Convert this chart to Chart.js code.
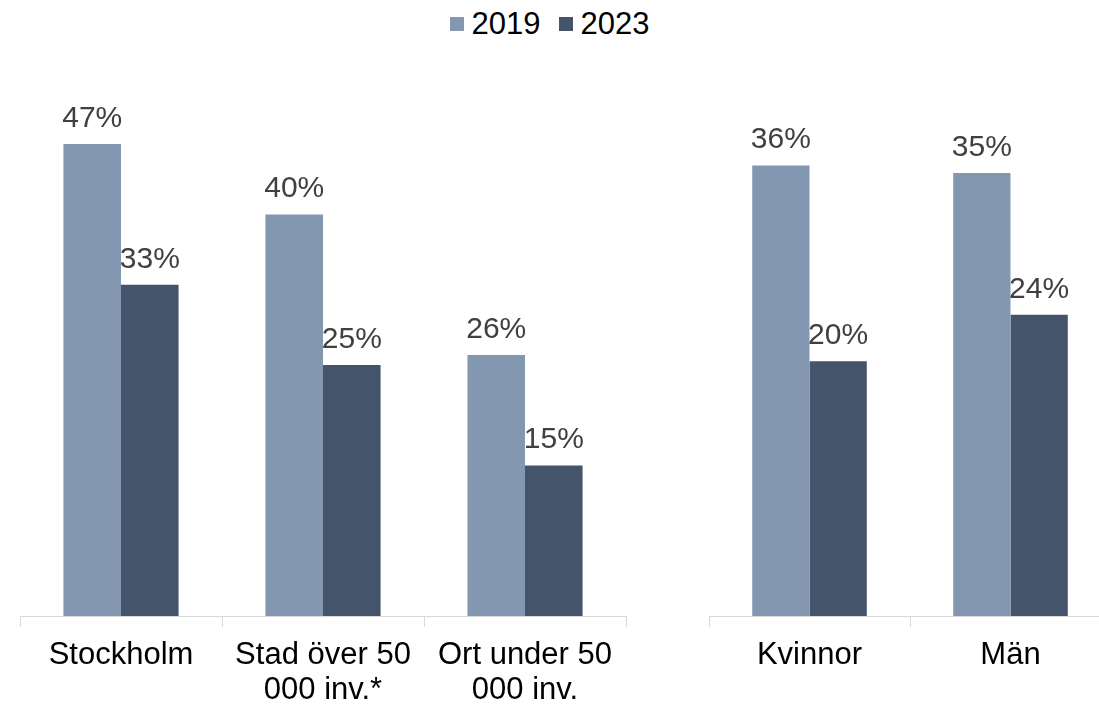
<!DOCTYPE html>
<html lang="sv">
<head>
<meta charset="utf-8">
<script src="https://cdn.jsdelivr.net/npm/chart.js@4/dist/chart.umd.min.js"></script>
<style>
    html, body { margin: 0; padding: 0; background: #fff; overflow: hidden; }
    body { width: 1099px; height: 705px; position: relative; font-family: 'Liberation Sans', Arial, sans-serif; }
    #legend { position: absolute; top: 6px; left: 0; width: 1099px; text-align: center; font-size: 31px; color: #000; }
    #legend span.item { display: inline-block; margin: 0 9px; }
    #legend span.box { display: inline-block; width: 14px; height: 14px; margin-right: 8px; vertical-align: 3px; }
    #wrapIzq { position: absolute; left: 0; top: 0; width: 660px; height: 705px; }
    #wrapDer { position: absolute; left: 680px; top: 0; width: 460px; height: 705px; }
</style>
</head>
<body>
<div id="legend"></div>
<div id="wrapIzq"><canvas id="chartIzq"></canvas></div>
<div id="wrapDer"><canvas id="chartDer"></canvas></div>
<script>
// Datos
const SERIES = ['2019', '2023'];
const ortLabels = [['Stockholm'], ['Stad över 50', '000 inv.*'], ['Ort under 50', '000 inv.']];
const ort2019 = [47, 40, 26];
const ort2023 = [33, 25, 15];
const konLabels = ['Kvinnor', 'Män'];
const kon2019 = [35.9, 35.3];
const kon2023 = [20.3, 24.0];

const C = { light: '#8497B0', dark: '#44546A', label: '#404040', axis: '#D9D9D9', text: '#000000' };
const FONT = "'Liberation Sans', Arial, sans-serif";

// Leyenda (texto HTML)
(function () {
    const leg = document.getElementById('legend');
    [C.light, C.dark].forEach((col, i) => {
        const it = document.createElement('span');
        it.className = 'item';
        const box = document.createElement('span');
        box.className = 'box';
        box.style.background = col;
        it.appendChild(box);
        it.appendChild(document.createTextNode(SERIES[i]));
        leg.appendChild(it);
    });
})();

// Etiquetas de valor sobre las barras
const valorPlugin = {
    id: 'valores',
    afterDatasetsDraw(chart) {
        const ctx = chart.ctx;
        ctx.save();
        ctx.font = '30px ' + FONT;
        ctx.fillStyle = C.label;
        ctx.textAlign = 'center';
        ctx.textBaseline = 'alphabetic';
        chart.data.datasets.forEach((ds, i) => {
            chart.getDatasetMeta(i).data.forEach((bar, j) => {
                ctx.fillText(Math.round(ds.data[j]) + '%', bar.x, bar.y - 17);
            });
        });
        ctx.restore();
    }
};

function crearGrafico(id, labels, d1, d2, maxY, padL, padR) {
    new Chart(document.getElementById(id), {
        type: 'bar',
        data: {
            labels: labels,
            datasets: [
                { label: SERIES[0], data: d1, backgroundColor: C.light, barPercentage: 1, categoryPercentage: 0.57 },
                { label: SERIES[1], data: d2, backgroundColor: C.dark, barPercentage: 1, categoryPercentage: 0.57 }
            ]
        },
        options: {
            responsive: true,
            maintainAspectRatio: false,
            animation: false,
            layout: { padding: { left: padL, right: padR, top: 114, bottom: 0 } },
            plugins: { legend: { display: false }, tooltip: { enabled: false } },
            scales: {
                x: {
                    offset: true,
                    afterFit: axis => { axis.height = 89; },
                    border: { display: true, color: C.axis, width: 1 },
                    grid: { offset: true, drawOnChartArea: false, drawTicks: true, tickLength: 11, color: C.axis },
                    ticks: { color: C.text, font: { family: FONT, size: 31, lineHeight: 1.13 }, padding: 11, maxRotation: 0, autoSkip: false }
                },
                y: { display: false, min: 0, max: maxY }
            }
        },
        plugins: [valorPlugin]
    });
}

crearGrafico('chartIzq', ortLabels, ort2019, ort2023, 50, 20, 34);
crearGrafico('chartDer', konLabels, kon2019, kon2023, 40, 29, 29);
</script>
</body>
</html>
